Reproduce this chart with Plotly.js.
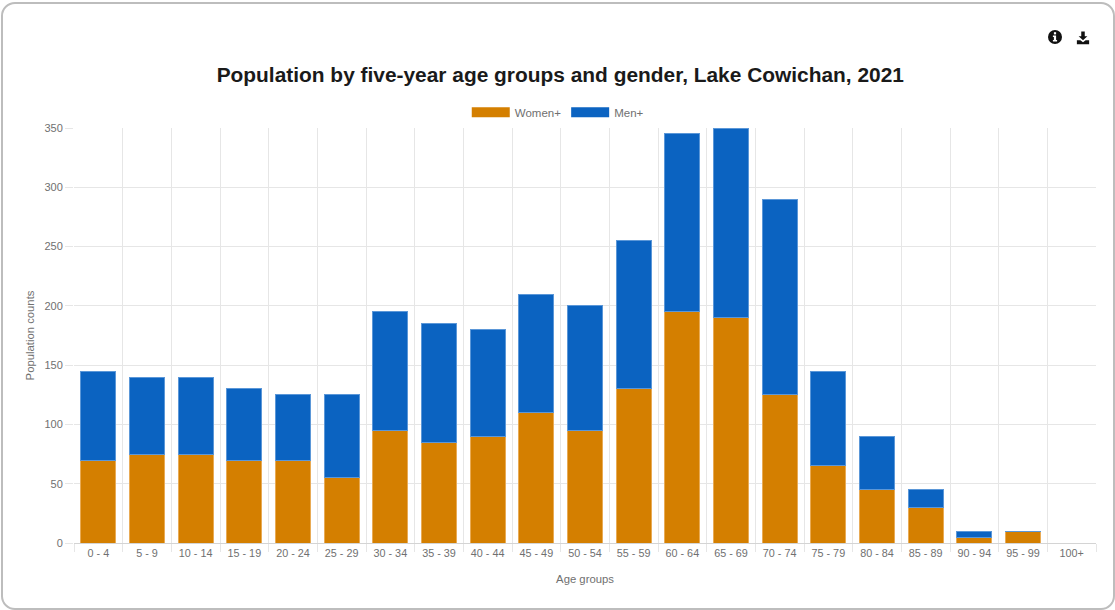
<!DOCTYPE html>
<html>
<head>
<meta charset="utf-8">
<script src="https://cdn.plot.ly/plotly-3.0.1.min.js"></script>
<style>
html,body{margin:0;padding:0;background:#fff;width:1115px;height:610px;overflow:hidden}
#card{position:absolute;left:1px;top:2px;width:1110px;height:604px;border:2px solid #bdbdbd;border-radius:14px;box-sizing:content-box}
#chart{position:absolute;left:0;top:0;width:1115px;height:610px}
.icon{position:absolute}
</style>
</head>
<body>
<div id="card"></div>
<div id="chart"></div>
<svg class="icon" style="left:1047px;top:29px" width="16" height="16" viewBox="0 0 16 16">
  <circle cx="8" cy="8" r="7" fill="#111"/>
  <rect x="6.9" y="3.2" width="2.2" height="2.2" fill="#fff"/>
  <path d="M5.9 6.4H9.1V10.9H10.1V12.5H5.9V10.9H6.9V7.9H5.9Z" fill="#fff"/>
</svg>
<svg class="icon" style="left:1076px;top:31px" width="14" height="14" viewBox="0 0 16 16">
  <path d="M6 0.5H10V6H13L8 10.5L3 6H6Z" fill="#111"/>
  <path d="M1 10.5H5L8 12.8L11 10.5H15V15H1Z" fill="#111"/>
</svg>
<script>
var ageGroups = ["0 - 4","5 - 9","10 - 14","15 - 19","20 - 24","25 - 29","30 - 34","35 - 39","40 - 44","45 - 49","50 - 54","55 - 59","60 - 64","65 - 69","70 - 74","75 - 79","80 - 84","85 - 89","90 - 94","95 - 99","100+"];
var women = [70,75,75,70,70,55,95,85,90,110,95,130,195,190,125,65,45,30,5,10,0];
var men = [75,65,65,60,55,70,100,100,90,100,105,125,150,160,165,80,45,15,5,0,0];
var colorWomen = "#d47f00";
var colorMen = "#0b63c1";
var fontFamily = '"Liberation Sans", Arial, sans-serif';
var textGray = "#707070";
var gridGray = "#e6e6e6";

function barTrace(name, values, color, edge) {
  return {type:"bar", name:name, x:ageGroups, y:values, showlegend:false,
    marker:{color:color, line:{color:edge, width:1}},
    hoverinfo:"x+y+name"};
}
function legendTrace(name, color) {
  return {type:"scatter", mode:"lines", name:name, x:[null], y:[null],
    line:{color:color, width:13}, hoverinfo:"skip"};
}
var data = [
  barTrace("Women+", women, colorWomen, "#e9ab55"),
  barTrace("Men+", men, colorMen, "#5b97d8"),
  legendTrace("Women+", colorWomen),
  legendTrace("Men+", colorMen)
];
var layout = {
  width:1115, height:610,
  paper_bgcolor:"rgba(0,0,0,0)", plot_bgcolor:"rgba(0,0,0,0)",
  margin:{l:74,r:19,t:128,b:67,pad:0},
  barmode:"stack", bargap:0.28,
  font:{family:fontFamily, color:textGray, size:11},
  title:{text:"<b>Population by five-year age groups and gender, Lake Cowichan, 2021</b>",
    font:{family:fontFamily, size:20.9, color:"#1a1a1a"},
    x:0.5025, xanchor:"center", y:0.878, yanchor:"middle", yref:"container"},
  legend:{orientation:"h", x:0.3843, xanchor:"left", y:1.038, yanchor:"middle",
    itemwidth:38, font:{size:11.5,color:textGray}, bgcolor:"rgba(0,0,0,0)", traceorder:"normal"},
  xaxis:{type:"category", categoryorder:"array", categoryarray:ageGroups, tickvals:ageGroups, ticktext:ageGroups,
    tickson:"boundaries", ticks:"outside", ticklen:8, tickcolor:gridGray, tickwidth:1,
    showgrid:true, gridcolor:gridGray, gridwidth:1,
    showline:true, linecolor:"#d4d4d4", linewidth:1, zeroline:false,
    tickangle:0, tickfont:{size:10.8,color:textGray},
    title:{text:"Age groups", font:{size:11.3,color:textGray}, standoff:17}},
  yaxis:{range:[0,350], tick0:0, dtick:50, ticks:"outside", ticklen:8, tickcolor:gridGray, tickwidth:1,
    showgrid:true, gridcolor:gridGray, gridwidth:1, zeroline:false, showline:false,
    tickfont:{size:11,color:textGray},
    title:{text:"Population counts", font:{size:11.3,color:textGray}, standoff:7}},
  showlegend:true
};
Plotly.newPlot("chart", data, layout, {displayModeBar:false, responsive:false});
</script>
</body>
</html>
